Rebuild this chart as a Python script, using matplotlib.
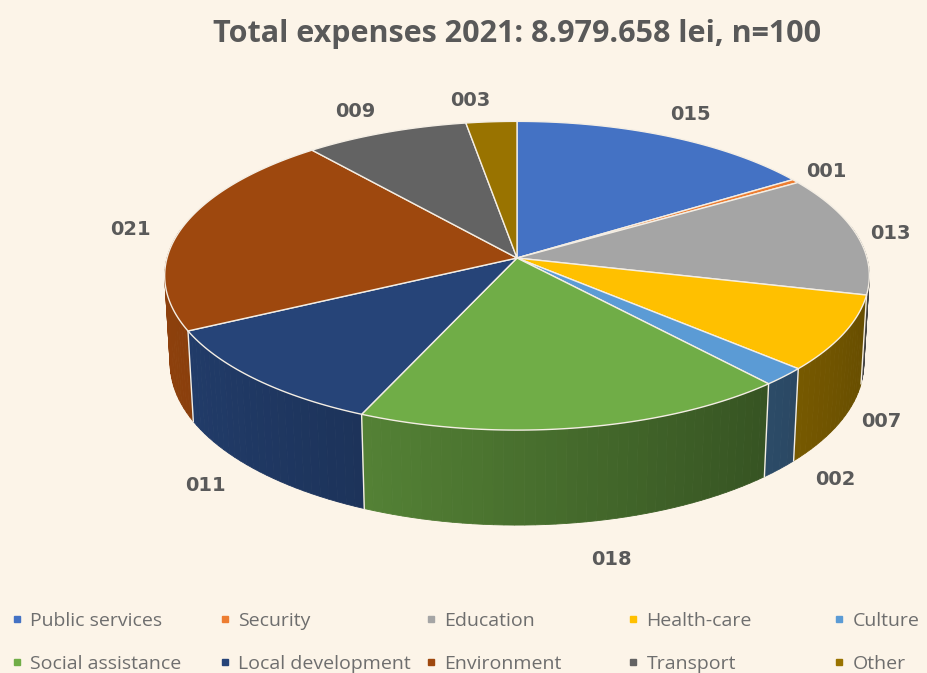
import numpy as np
import matplotlib
matplotlib.use('Agg')
import matplotlib.pyplot as plt
from matplotlib.patches import Polygon
from matplotlib.lines import Line2D
from matplotlib.colors import to_rgb

# budget chapters, share of total expenses (%)
codes = ['015', '001', '013', '007', '002', '018', '011', '021', '009', '003']
categories = ['Public services', 'Security', 'Education', 'Health-care', 'Culture',
              'Social assistance', 'Local development', 'Environment', 'Transport', 'Other']
shares = [15.8, 0.4, 12.6, 7.9, 1.9, 17.9, 11.0, 21.5, 8.4, 2.6]
colors = ['#4472C4', '#ED7D31', '#A5A5A5', '#FFC000', '#5B9BD5',
          '#70AD47', '#264478', '#9E480E', '#636363', '#997300']

BG = '#FCF4E8'
TXT = '#595959'
EDGE = '#F4EEE4'

# view of the disc
ELEV = np.radians(25.8)
DIST = 7.84
SCALE = 2744.0
CX, CY = 517, 258
DEPTH = 0.28

# nudges for the data labels (pixels)
label_nudge = [(3, -7), (-5, 0), (-13, 2), (-5, -14), (15, -9),
               (25, 8), (-15, -6), (-6, 6), (-14, -5), (-18, -4)]

def project(X, Y, Z):
    c, s = np.cos(ELEV), np.sin(ELEV)
    yc = Z * c + Y * s
    zc = Y * c - Z * s + DIST
    return CX + SCALE * X / zc, CY - SCALE * yc / zc

def rim_pt(phi, z, r=1.0):
    return project(r * np.cos(phi), r * np.sin(phi), z)

fig = plt.figure(figsize=(9.28, 6.73), dpi=100)
fig.patch.set_facecolor(BG)
ax = fig.add_axes([0, 0, 1, 1])
ax.set_xlim(0, 928)
ax.set_ylim(673, 0)
ax.axis('off')
ax.set_facecolor(BG)

edges = 90 - np.concatenate([[0], np.cumsum(shares)]) * 3.6
edges = np.radians(edges)

# side wall, split into thin strips so it can be shaded
strips = []
for i in range(len(shares)):
    a1, a2 = edges[i], edges[i + 1]
    n = max(2, int(np.degrees(a1 - a2) / 1.5))
    ts = np.linspace(a1, a2, n + 1)
    base = np.array(to_rgb(colors[i]))
    for t0, t1 in zip(ts[:-1], ts[1:]):
        m = 0.5 * (t0 + t1)
        if np.sin(m) > 0.2:
            continue
        f = 0.65 - 0.25 * np.cos(m)
        col = np.clip(base * f, 0, 1)
        pts = [rim_pt(t0, 0), rim_pt(t1, 0), rim_pt(t1, -DEPTH), rim_pt(t0, -DEPTH)]
        strips.append((np.sin(m), pts, col))

strips.sort(key=lambda s: -s[0])
for k, (_, pts, col) in enumerate(strips):
    ax.add_patch(Polygon(pts, closed=True, facecolor=col, edgecolor=col,
                         linewidth=0.6, zorder=1))

# slice boundaries on the front wall
for a in edges[:-1]:
    if np.sin(a) < -0.05:
        x0, y0 = rim_pt(a, 0)
        x1, y1 = rim_pt(a, -DEPTH)
        ax.plot([x0, x1], [y0, y1], color=EDGE, lw=1.0, zorder=2)

# top faces
for i in range(len(shares)):
    a1, a2 = edges[i], edges[i + 1]
    n = max(3, int(np.degrees(a1 - a2)))
    ts = np.linspace(a1, a2, n + 1)
    pts = [project(0, 0, 0)] + [rim_pt(t, 0) for t in ts]
    ax.add_patch(Polygon(pts, closed=True, facecolor=colors[i], edgecolor=EDGE,
                         linewidth=1.0, joinstyle='round', zorder=3))

# data labels
for i, code in enumerate(codes):
    m = 0.5 * (edges[i] + edges[i + 1])
    z = -DEPTH if np.sin(m) < 0 else 0
    x, y = rim_pt(m, z, 1.14)
    dx, dy = label_nudge[i]
    ax.text(x + dx, y + dy, code, ha='center', va='center', fontsize=14, fontweight='bold',
            color='#5a5a5a', family='DejaVu Sans', zorder=5)

ax.text(517, 34, 'Total expenses 2021: 8.979.658 lei, n=100', ha='center', va='center',
        fontsize=22, fontweight='bold', color=TXT, family='Open Sans')

# legend: two rows, five fixed columns
col_x = [11, 219, 425, 627, 833]
for j in range(5):
    hs = []
    for k in (j, j + 5):
        hs.append(Line2D([], [], marker='s', markersize=5, linestyle='none',
                         color=colors[k], label=categories[k]))
    fig.legend(handles=hs, loc='upper left', bbox_to_anchor=(col_x[j] / 928, 1 - 612 / 673),
               frameon=False, ncol=1, handlelength=0.6, handletextpad=0.4,
               labelspacing=1.3, borderpad=0, borderaxespad=0,
               prop={'family': 'Open Sans', 'size': 14}, labelcolor='#6e6e6e')

plt.savefig('out.png', dpi=100, facecolor=BG)
